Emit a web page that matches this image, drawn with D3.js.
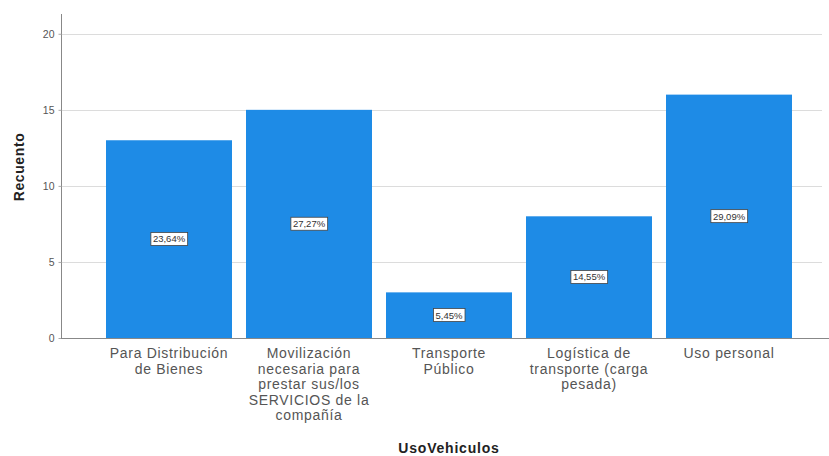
<!DOCTYPE html>
<html><head><meta charset="utf-8">
<script src="https://d3js.org/d3.v7.min.js"></script>
<style>body{margin:0;background:#fff;} svg{display:block;}</style>
</head><body>
<svg id="c" width="829" height="456"></svg>
<script>
const categories = [
  ["Para Distribución", "de Bienes"],
  ["Movilización", "necesaria para", "prestar sus/los", "SERVICIOS de la", "compañía"],
  ["Transporte", "Público"],
  ["Logística de", "transporte (carga", "pesada)"],
  ["Uso personal"]
];
const counts = [13, 15, 3, 8, 16];
const percentLabels = ["23,64%", "27,27%", "5,45%", "14,55%", "29,09%"];
const yTicks = [0, 5, 10, 15, 20];

const svg = d3.select("#c");
const x0 = 61, x1 = 822, yTop = 14, yBot = 338;
const idx = d3.range(counts.length);
const x = d3.scaleBand().domain(idx).range([99, 799]).paddingInner(0.1).paddingOuter(0.05);
const y = d3.scaleLinear().domain([0, 21.3]).range([yBot, yTop]);
const font = "Arial, 'Liberation Sans', sans-serif";

// gridlines
svg.append("g").selectAll("line").data(yTicks.filter(d => d > 0)).join("line")
  .attr("x1", x0).attr("x2", x1)
  .attr("y1", d => Math.round(y(d)) + 0.5).attr("y2", d => Math.round(y(d)) + 0.5)
  .attr("stroke", "#dcdcdc").attr("stroke-width", 1);

// bars
svg.append("g").selectAll("rect").data(idx).join("rect")
  .attr("x", i => x(i)).attr("width", x.bandwidth())
  .attr("y", i => y(counts[i])).attr("height", i => yBot - y(counts[i]))
  .attr("fill", "#1e8be6");

// y axis
const yAxis = svg.append("g").attr("transform", `translate(${x0 + 0.5},0)`)
  .call(d3.axisLeft(y).tickValues(yTicks).tickSize(3).tickPadding(4));
yAxis.select(".domain").attr("stroke", "#888").attr("d", `M0,${yTop}V${yBot}`);
yAxis.selectAll(".tick line").attr("stroke", "#aaa");
yAxis.selectAll("text").attr("font-family", font).attr("font-size", 10.5).attr("fill", "#555");

// x axis line
svg.append("line").attr("x1", x0).attr("x2", 829).attr("y1", yBot + 0.5).attr("y2", yBot + 0.5)
  .attr("stroke", "#888");

// x category labels
const xl = svg.append("g").selectAll("text").data(idx).join("text")
  .attr("x", i => x(i) + x.bandwidth() / 2).attr("y", 358)
  .attr("text-anchor", "middle").attr("font-family", font).attr("font-size", 14)
  .attr("letter-spacing", 0.7).attr("fill", "#555");
xl.each(function(i) {
  d3.select(this).selectAll("tspan").data(categories[i]).join("tspan")
    .attr("x", x(i) + x.bandwidth() / 2).attr("dy", (d, k) => k === 0 ? 0 : 15.6).text(d => d);
});

// percent labels
const pl = svg.append("g").selectAll("g").data(idx).join("g")
  .attr("transform", i => `translate(${x(i) + x.bandwidth() / 2},${y(counts[i] / 2)})`);
pl.append("text").attr("text-anchor", "middle").attr("dy", "0.35em")
  .attr("font-family", font).attr("font-size", 9.5).attr("fill", "#333")
  .text(i => percentLabels[i]);
pl.each(function() {
  const g = d3.select(this);
  const bb = g.select("text").node().getBBox();
  g.insert("rect", "text").attr("x", bb.x - 2).attr("y", bb.y - 1)
    .attr("width", bb.width + 4).attr("height", bb.height + 2)
    .attr("fill", "#fff").attr("stroke", "#444").attr("stroke-width", 0.8);
});

// axis titles
svg.append("text").attr("transform", "translate(24,167) rotate(-90)")
  .attr("text-anchor", "middle").attr("font-family", font).attr("font-size", 14)
  .attr("letter-spacing", 0.6)
  .attr("font-weight", "bold").attr("fill", "#222").text("Recuento");
svg.append("text").attr("x", 449).attr("y", 453)
  .attr("text-anchor", "middle").attr("font-family", font).attr("font-size", 14)
  .attr("letter-spacing", 0.8)
  .attr("font-weight", "bold").attr("fill", "#222").text("UsoVehiculos");
</script>
</body></html>
